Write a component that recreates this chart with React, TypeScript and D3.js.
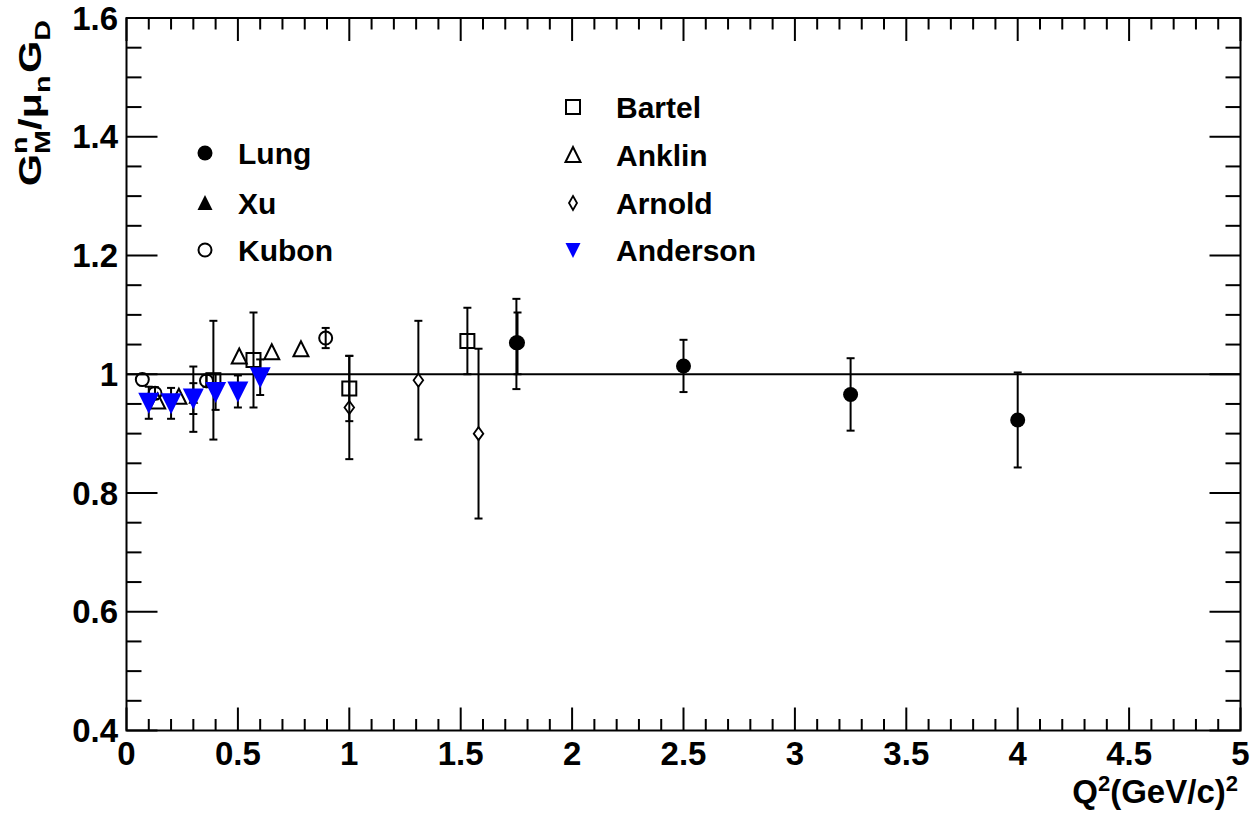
import React from "react";
import * as d3 from "d3";

// ---- data ----
const lungQ2 = [1.75, 1.755, 2.5, 3.25, 4.0];
const lungG = [1.053, 1.053, 1.014, 0.966, 0.923];
const lungErrHi = [0.074, 0.051, 0.044, 0.061, 0.08];
const lungErrLo = [0.078, 0.053, 0.044, 0.061, 0.08];

const xuQ2 = [0.3];
const xuG = [0.958];
const xuErr = [0.055];

const kubonQ2 = [0.071, 0.128, 0.359, 0.894];
const kubonG = [0.991, 0.968, 0.989, 1.061];
const kubonErr = [0.0, 0.01, 0.01, 0.017];

const bartelQ2 = [0.39, 0.57, 1.0, 1.53];
const bartelG = [0.99, 1.024, 0.976, 1.056];
const bartelErr = [0.1, 0.08, 0.055, 0.056];

const anklinQ2 = [0.14, 0.235, 0.506, 0.652, 0.783];
const anklinG = [0.954, 0.962, 1.03, 1.037, 1.042];
const anklinErr = [0.0, 0.0, 0.0, 0.0, 0.0];

const arnoldQ2 = [1.0, 1.31, 1.58];
const arnoldG = [0.944, 0.99, 0.9];
const arnoldErr = [0.087, 0.1, 0.143];

const andersonQ2 = [0.1, 0.2, 0.3, 0.4, 0.5, 0.6];
const andersonG = [0.952, 0.951, 0.959, 0.97, 0.971, 0.995];
const andersonErr = [0.027, 0.026, 0.026, 0.03, 0.027, 0.03];

const xMajorTicks = [0, 0.5, 1, 1.5, 2, 2.5, 3, 3.5, 4, 4.5, 5];
const xTickLabels = ["0", "0.5", "1", "1.5", "2", "2.5", "3", "3.5", "4", "4.5", "5"];
const yMajorTicks = [0.4, 0.6, 0.8, 1.0, 1.2, 1.4, 1.6];
const yTickLabels = ["0.4", "0.6", "0.8", "1", "1.2", "1.4", "1.6"];

const legendLeft = ["Lung", "Xu", "Kubon"];
const legendRight = ["Bartel", "Anklin", "Arnold", "Anderson"];

// ---- layout ----
const W = 1255;
const H = 816;
const X0 = 126.5;
const X1 = 1240.5;
const Y0 = 730.5;
const Y1 = 18;
const FONT = "'Liberation Sans', Arial, Helvetica, sans-serif";
const FS = 30;
const FT = 33;
const SUB = 22;
const BLUE = "#0000ff";

const x = d3.scaleLinear().domain([0, 5]).range([X0, X1]);
const y = d3.scaleLinear().domain([0.4, 1.6]).range([Y0, Y1]);

type MarkerKind = "fcircle" | "ocircle" | "osquare" | "otri" | "ftri" | "ftriL" | "diamond" | "btri" | "btriL";

function Marker({ kind, cx, cy }: { kind: MarkerKind; cx: number; cy: number }) {
  const sw = 2;
  switch (kind) {
    case "fcircle":
      return <circle cx={cx} cy={cy} r={7.5} fill="#000" />;
    case "ocircle":
      return <circle cx={cx} cy={cy} r={6.5} fill="none" stroke="#000" strokeWidth={sw} />;
    case "osquare":
      return <rect x={cx - 7} y={cy - 7} width={14} height={14} fill="none" stroke="#000" strokeWidth={sw} />;
    case "otri":
      return (
        <polygon
          points={`${cx - 7.5},${cy + 7} ${cx + 7.5},${cy + 7} ${cx},${cy - 8}`}
          fill="none"
          stroke="#000"
          strokeWidth={sw}
        />
      );
    case "ftri":
      return <polygon points={`${cx - 5},${cy + 4.5} ${cx + 5},${cy + 4.5} ${cx},${cy - 5.5}`} fill="#000" />;
    case "ftriL":
      return <polygon points={`${cx - 7.5},${cy + 7} ${cx + 7.5},${cy + 7} ${cx},${cy - 8}`} fill="#000" />;
    case "diamond":
      return (
        <polygon
          points={`${cx},${cy - 6.5} ${cx + 4.8},${cy} ${cx},${cy + 6.5} ${cx - 4.8},${cy}`}
          fill="#fff"
          stroke="#000"
          strokeWidth={1.8}
        />
      );
    case "btri":
      return (
        <polygon points={`${cx - 10.5},${cy - 10} ${cx + 10.5},${cy - 10} ${cx},${cy + 11}`} fill={BLUE} />
      );
    case "btriL":
      return <polygon points={`${cx - 7.5},${cy - 7} ${cx + 7.5},${cy - 7} ${cx},${cy + 8}`} fill={BLUE} />;
  }
  return null;
}

function ErrBar({ cx, y1, y2 }: { cx: number; y1: number; y2: number }) {
  if (Math.abs(y2 - y1) < 0.5) return null;
  return (
    <g stroke="#000" strokeWidth={2}>
      <line x1={cx} x2={cx} y1={y1} y2={y2} />
      <line x1={cx - 4} x2={cx + 4} y1={y1} y2={y1} />
      <line x1={cx - 4} x2={cx + 4} y1={y2} y2={y2} />
    </g>
  );
}

function Series({
  qs,
  gs,
  hi,
  lo,
  kind,
}: {
  qs: number[];
  gs: number[];
  hi: number[];
  lo: number[];
  kind: MarkerKind;
}) {
  return (
    <g>
      {qs.map((q, i) => (
        <ErrBar key={"e" + i} cx={x(q)} y1={y(gs[i] + hi[i])} y2={y(gs[i] - lo[i])} />
      ))}
      {qs.map((q, i) => (
        <Marker key={"m" + i} kind={kind} cx={x(q)} cy={y(gs[i])} />
      ))}
    </g>
  );
}

function T({
  tx,
  ty,
  anchor,
  size = FS,
  children,
}: {
  tx: number;
  ty: number;
  anchor: "start" | "middle" | "end";
  size?: number;
  children: React.ReactNode;
}) {
  return (
    <text x={tx} y={ty} textAnchor={anchor} fontFamily={FONT} fontWeight="bold" fontSize={size} fill="#000">
      {children}
    </text>
  );
}

export default function App() {
  const xMinor = d3.range(0, 51).map((i) => i / 10);
  const yMinor = d3.range(0, 25).map((i) => 0.4 + i * 0.05);

  const leftKinds: MarkerKind[] = ["fcircle", "ftriL", "ocircle"];
  const leftY = [153, 203, 250];
  const rightKinds: MarkerKind[] = ["osquare", "otri", "diamond", "btriL"];
  const rightY = [107, 155, 203, 250];

  return (
    <svg width={W} height={H} style={{ position: "absolute", left: 0, top: 0, background: "#fff" }}>
      <rect x={0} y={0} width={W} height={H} fill="#fff" />

      {/* ticks */}
      <g stroke="#000" strokeWidth={2}>
        {xMinor.map((v, i) => {
          const major = i % 5 === 0;
          const len = major ? 23 : 11.5;
          return (
            <g key={"xt" + i}>
              <line x1={x(v)} x2={x(v)} y1={Y0} y2={Y0 - len} />
              <line x1={x(v)} x2={x(v)} y1={Y1} y2={Y1 + len} />
            </g>
          );
        })}
        {yMinor.map((v, i) => {
          const major = i % 4 === 0;
          const len = major ? 31 : 15;
          return (
            <g key={"yt" + i}>
              <line x1={X0} x2={X0 + len} y1={y(v)} y2={y(v)} />
              <line x1={X1} x2={X1 - len} y1={y(v)} y2={y(v)} />
            </g>
          );
        })}
      </g>

      {/* reference line at 1 */}
      <line x1={X0} x2={X1} y1={y(1)} y2={y(1)} stroke="#000" strokeWidth={2} />

      {/* data */}
      <Series qs={arnoldQ2} gs={arnoldG} hi={arnoldErr} lo={arnoldErr} kind="diamond" />
      <Series qs={bartelQ2} gs={bartelG} hi={bartelErr} lo={bartelErr} kind="osquare" />
      <Series qs={anklinQ2} gs={anklinG} hi={anklinErr} lo={anklinErr} kind="otri" />
      <Series qs={kubonQ2} gs={kubonG} hi={kubonErr} lo={kubonErr} kind="ocircle" />
      <Series qs={xuQ2} gs={xuG} hi={xuErr} lo={xuErr} kind="ftri" />
      <Series qs={lungQ2} gs={lungG} hi={lungErrHi} lo={lungErrLo} kind="fcircle" />
      <Series qs={andersonQ2} gs={andersonG} hi={andersonErr} lo={andersonErr} kind="btri" />

      {/* frame */}
      <rect x={X0} y={Y1} width={X1 - X0} height={Y0 - Y1} fill="none" stroke="#000" strokeWidth={2} />

      {/* tick labels */}
      {xMajorTicks.map((v, i) => (
        <T key={"xl" + i} tx={x(v)} ty={765} anchor="middle" size={FT}>
          {xTickLabels[i]}
        </T>
      ))}
      {yMajorTicks.map((v, i) => (
        <T key={"yl" + i} tx={118} ty={y(v) + 11.5} anchor="end" size={FT}>
          {yTickLabels[i]}
        </T>
      ))}

      {/* x title */}
      <T tx={1238} ty={803} anchor="end" size={FT}>
        Q<tspan fontSize={SUB} dy={-12}>2</tspan>
        <tspan dy={12}>(GeV/c)</tspan>
        <tspan fontSize={SUB} dy={-12}>2</tspan>
      </T>

      {/* y title */}
      <g transform={`translate(41,20) rotate(-90) scale(1.3,1)`}>
        <text x={0} y={0} textAnchor="end" fontFamily={FONT} fontWeight="bold" fontSize={32} fill="#000">
          G<tspan fontSize={SUB} dy={-14}>n</tspan>
          <tspan fontSize={SUB} dx={-13.4} dy={23}>M</tspan>
          <tspan dy={-9}>/</tspan>
          <tspan>μ</tspan>
          <tspan fontSize={SUB} dy={9}>n</tspan>
          <tspan dy={-9} dx={2}>G</tspan>
          <tspan fontSize={SUB} dy={9}>D</tspan>
        </text>
      </g>

      {/* legend */}
      {legendLeft.map((name, i) => (
        <g key={"ll" + i}>
          <Marker kind={leftKinds[i]} cx={205} cy={leftY[i]} />
          <T tx={238} ty={leftY[i] + 11} anchor="start">
            {name}
          </T>
        </g>
      ))}
      {legendRight.map((name, i) => (
        <g key={"lr" + i}>
          {rightKinds[i] === "diamond" ? (
            <polygon
              points={`573,${rightY[i] - 7} 577,${rightY[i]} 573,${rightY[i] + 7} 569,${rightY[i]}`}
              fill="#fff"
              stroke="#000"
              strokeWidth={1.8}
            />
          ) : (
            <Marker kind={rightKinds[i]} cx={573} cy={rightY[i]} />
          )}
          <T tx={616} ty={rightY[i] + 11} anchor="start">
            {name}
          </T>
        </g>
      ))}
    </svg>
  );
}
